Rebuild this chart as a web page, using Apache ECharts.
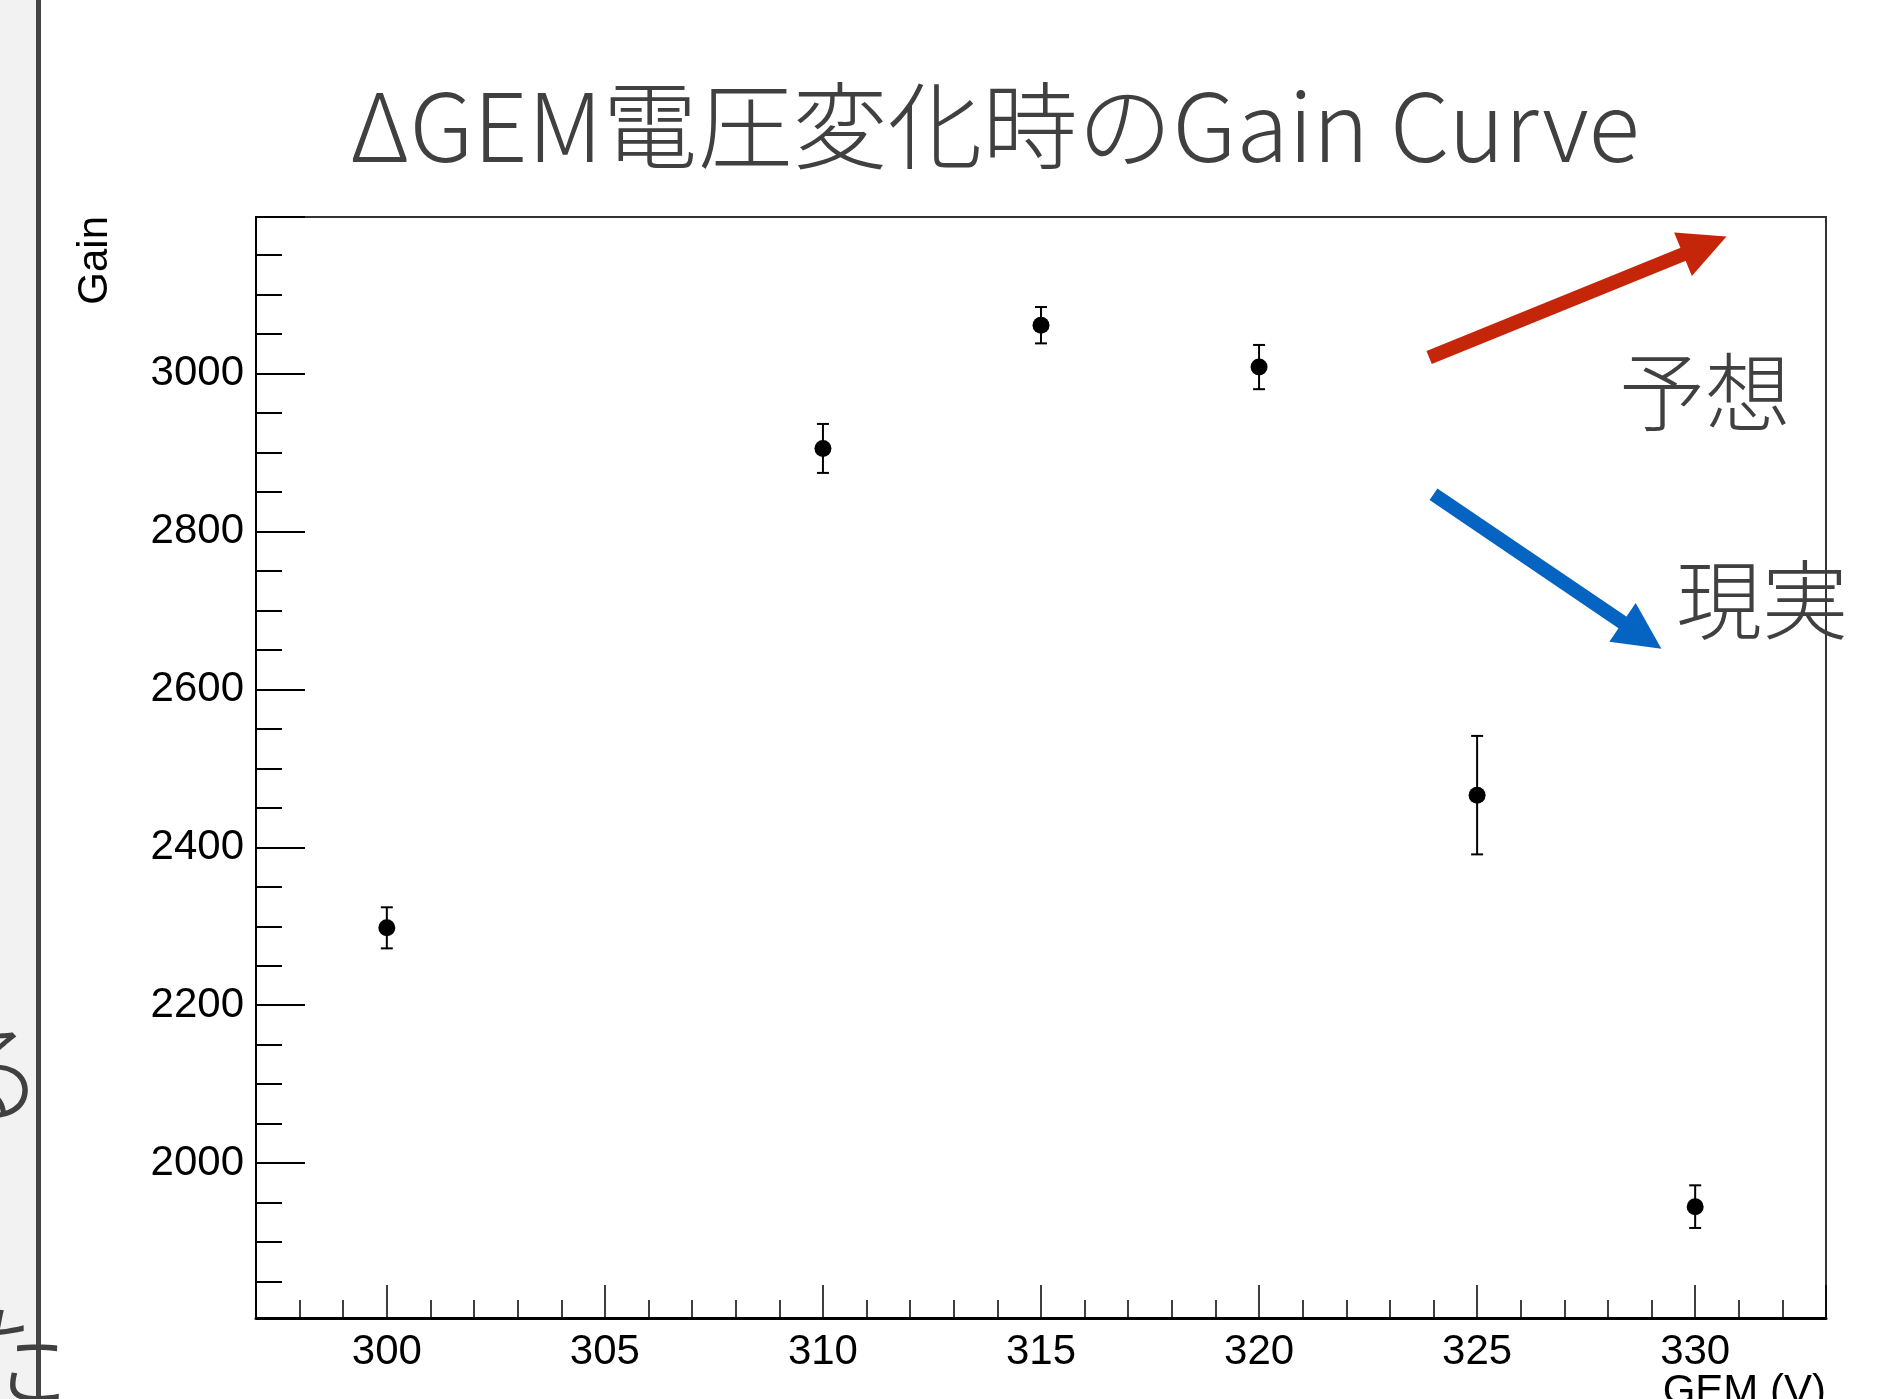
<!DOCTYPE html>
<html>
<head>
<meta charset="utf-8">
<title>ΔGEM電圧変化時のGain Curve</title>
<script src="https://cdn.jsdelivr.net/npm/echarts@6/dist/echarts.min.js"></script>
<style>
  html, body { margin: 0; padding: 0; background: #fff; }
  #chart { width: 1887px; height: 1399px; }
</style>
</head>
<body>
<div id="chart"></div>
<script>
// GEM電圧 (V)
const voltages = [300, 310, 315, 320, 325, 330]
// 測定したGain
const gains = [2298, 2905, 3061, 3008, 2466, 1945]
// Gainの誤差 (片側)
const gainErrors = [26, 31, 23, 28, 75, 27]

// 目盛りラベル
const xTickLabels = [300, 305, 310, 315, 320, 325, 330]
const yTickLabels = [2000, 2200, 2400, 2600, 2800, 3000]

// 注釈の矢印 (データ座標: 始点, 終点)
const arrowExpected = [[323.9, 3020], [330.22, 3162]]
const arrowActual = [[324.0, 2847], [328.78, 2668]]

const axisFont = 'Liberation Sans, Arial, Helvetica, sans-serif'
const jpFont = '"Noto Sans CJK JP", sans-serif'

const chart = echarts.init(document.getElementById('chart'), null, { renderer: 'canvas' })

const option = {
  backgroundColor: '#fff',
  animation: false,
  textStyle: { fontFamily: axisFont },
  title: {
    text: 'ΔGEM電圧変化時のGain Curve',
    left: 345,
    top: 73,
    textStyle: {
      fontFamily: jpFont,
      fontWeight: 300,
      fontSize: 95,
      color: '#404040'
    }
  },
  grid: {
    left: 256,
    top: 217,
    right: 61,
    bottom: 81,
    show: true,
    borderColor: '#333',
    borderWidth: 2,
    backgroundColor: 'transparent',
    outerBoundsMode: 'none'
  },
  xAxis: {
    type: 'value',
    min: 297,
    max: 333,
    splitNumber: 7,
    minInterval: 5,
    maxInterval: 5,
    name: 'GEM (V)',
    nameLocation: 'end',
    nameGap: 0,
    nameMoveOverlap: false,
    nameTextStyle: {
      fontFamily: axisFont,
      fontSize: 42,
      color: '#000',
      align: 'right',
      verticalAlign: 'top',
      padding: [53, 0, 0, 0]
    },
    axisLine: { onZero: false, lineStyle: { color: '#000', width: 3 } },
    axisTick: { inside: true, length: 33, lineStyle: { color: '#000', width: 1.5 } },
    minorTick: { show: true, splitNumber: 5, length: 18, lineStyle: { color: '#000', width: 1.5 } },
    splitLine: { show: false },
    minorSplitLine: { show: false },
    axisLabel: {
      fontSize: 42,
      color: '#000',
      margin: 13,
      formatter: v => (xTickLabels.includes(v) ? String(v) : '')
    }
  },
  yAxis: {
    type: 'value',
    min: 1804,
    max: 3198,
    splitNumber: 7,
    minInterval: 200,
    maxInterval: 200,
    name: 'Gain',
    nameLocation: 'end',
    nameGap: 1,
    nameRotate: 90,
    nameMoveOverlap: false,
    nameTextStyle: {
      fontFamily: axisFont,
      fontSize: 42,
      color: '#000',
      align: 'right',
      verticalAlign: 'bottom',
      padding: [0, 0, 140, 0]
    },
    axisLine: { onZero: false, lineStyle: { color: '#000', width: 2 } },
    axisTick: { inside: true, length: 49, lineStyle: { color: '#000', width: 2 } },
    minorTick: { show: true, splitNumber: 4, length: 26, lineStyle: { color: '#000', width: 2 } },
    splitLine: { show: false },
    minorSplitLine: { show: false },
    axisLabel: {
      fontSize: 42,
      color: '#000',
      margin: 12,
      padding: [5, 0, 0, 0],
      formatter: v => (yTickLabels.includes(v) ? String(v) : '')
    }
  },
  series: [
    {
      // 誤差棒
      name: 'error',
      type: 'custom',
      data: voltages.map((v, i) => [v, gains[i] - gainErrors[i], gains[i] + gainErrors[i]]),
      encode: { x: 0, y: [1, 2] },
      renderItem(params, api) {
        const x = api.value(0)
        const lo = api.coord([x, api.value(1)])
        const hi = api.coord([x, api.value(2)])
        const cap = 6
        const style = { stroke: '#000', lineWidth: 2 }
        return {
          type: 'group',
          children: [
            { type: 'line', shape: { x1: lo[0], y1: lo[1], x2: hi[0], y2: hi[1] }, style },
            { type: 'line', shape: { x1: lo[0] - cap, y1: lo[1], x2: lo[0] + cap, y2: lo[1] }, style },
            { type: 'line', shape: { x1: hi[0] - cap, y1: hi[1], x2: hi[0] + cap, y2: hi[1] }, style }
          ]
        }
      },
      z: 2
    },
    {
      name: 'Gain',
      type: 'scatter',
      data: voltages.map((v, i) => [v, gains[i]]),
      symbol: 'circle',
      symbolSize: 17,
      itemStyle: { color: '#000', opacity: 1 },
      z: 3,
      markLine: {
        silent: true,
        symbol: ['none', 'triangle'],
        symbolSize: 47,
        label: { show: false },
        emphasis: { disabled: true },
        data: [
          [
            { coord: arrowExpected[0], lineStyle: { color: '#c5260a', width: 14, type: 'solid', opacity: 1 }, itemStyle: { color: '#c5260a' } },
            { coord: arrowExpected[1], lineStyle: { color: '#c5260a', width: 14, type: 'solid', opacity: 1 }, itemStyle: { color: '#c5260a' } }
          ],
          [
            { coord: arrowActual[0], lineStyle: { color: '#0564c1', width: 14, type: 'solid', opacity: 1 }, itemStyle: { color: '#0564c1' } },
            { coord: arrowActual[1], lineStyle: { color: '#0564c1', width: 14, type: 'solid', opacity: 1 }, itemStyle: { color: '#0564c1' } }
          ]
        ]
      }
    }
  ],
  graphic: [
    // スライド左端の帯
    { type: 'rect', z: -10, shape: { x: 0, y: 0, width: 36, height: 1399 }, style: { fill: '#f2f2f2' } },
    { type: 'rect', z: -9, shape: { x: 36, y: 0, width: 5, height: 1399 }, style: { fill: '#444' } },
    { type: 'text', z: -8, x: 45, y: 1072, style: { text: 'る', font: '300 110px ' + jpFont, fill: '#404040', align: 'right', verticalAlign: 'middle' } },
    { type: 'text', z: -8, x: 70, y: 1356, style: { text: 'た', font: '300 115px ' + jpFont, fill: '#404040', align: 'right', verticalAlign: 'middle' } },
    // 注釈テキスト
    { type: 'text', z: 10, x: 1705, y: 392, style: { text: '予想', font: '300 86px ' + jpFont, fill: '#404040', align: 'center', verticalAlign: 'middle' } },
    { type: 'text', z: 10, x: 1762, y: 600, style: { text: '現実', font: '300 86px ' + jpFont, fill: '#404040', align: 'center', verticalAlign: 'middle' } }
  ]
}

chart.setOption(option)
window.addEventListener('resize', () => chart.resize())
</script>
</body>
</html>
